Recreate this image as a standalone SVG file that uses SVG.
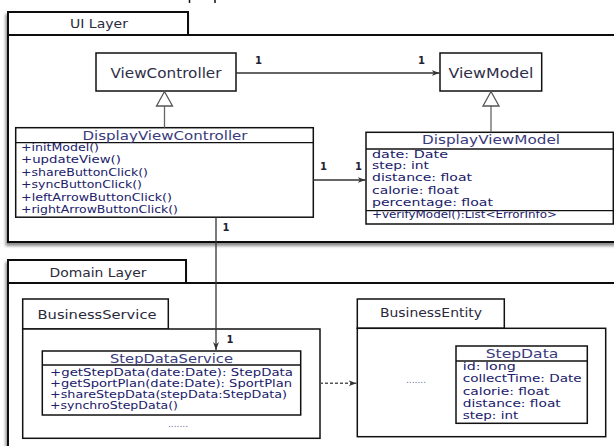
<svg xmlns="http://www.w3.org/2000/svg" width="614" height="446" viewBox="0 0 614 446">
  <defs>
    <filter id="shadow" x="-5%" y="-5%" width="110%" height="115%">
      <feDropShadow dx="-1.5" dy="3" stdDeviation="1.5" flood-color="#000" flood-opacity="0.45"/>
    </filter>
    <marker id="arrow" markerWidth="9" markerHeight="7" refX="8" refY="3.5" orient="auto" markerUnits="userSpaceOnUse">
      <path d="M0,0.5 L8,3.5 L0,6.5 L2.5,3.5 z" fill="#333"/>
    </marker>
  </defs>
  <style>
    .pkg { fill: #fff; stroke: #111; stroke-width: 2; }
    .sub { fill: #fff; stroke: #111; stroke-width: 1.5; }
    .box { fill: #fff; stroke: #111; stroke-width: 1.5; }
    .div { stroke: #111; stroke-width: 1.3; }
    text { font-family: "DejaVu Sans", "Liberation Sans", sans-serif; }
    .pname { font-size: 13px; fill: #2a2a3a; }
    .cname { font-size: 14px; fill: #2e2e48; }
    .title { font-size: 13px; fill: #3a3a7c; }
    .mem { font-size: 11px; fill: #20206a; }
    .mem.tight { font-size: 10px; }
    .mult { font-size: 10px; fill: #223; font-weight: bold; }
    .assoc { stroke: #333; stroke-width: 1.3; fill: none; }
    .gen { stroke: #666; stroke-width: 1.3; fill: none; }
    .tri { fill: #fff; stroke: #555; stroke-width: 1.3; }
    .dash { stroke: #555; stroke-width: 1.5; stroke-dasharray: 3 2; fill: none; }
    .dots { font-size: 9px; fill: #6a6a9a; }
  </style>

  <!-- stray ticks at the top edge -->
  <g id="ticks">
    <line x1="189.5" y1="0" x2="189.5" y2="3" stroke="#111" stroke-width="1.5"/>
    <line x1="215" y1="0" x2="215" y2="3" stroke="#111" stroke-width="1.5"/>
  </g>

  <!-- UI Layer package -->
  <g id="ui-layer" filter="url(#shadow)">
    <rect class="pkg" x="8" y="12" width="180" height="23"/>
    <rect class="pkg" x="8" y="35" width="620" height="207"/>
  </g>
  <text class="pname" x="99" y="28" text-anchor="middle" textLength="58" lengthAdjust="spacingAndGlyphs">UI Layer</text>

  <!-- Domain Layer package -->
  <g id="domain-layer" filter="url(#shadow)">
    <rect class="pkg" x="8" y="260" width="178" height="23"/>
    <rect class="pkg" x="8" y="283" width="620" height="200"/>
  </g>
  <text class="pname" x="98" y="277" text-anchor="middle" textLength="97" lengthAdjust="spacingAndGlyphs">Domain Layer</text>

  <!-- BusinessService package -->
  <g id="business-service">
    <rect class="sub" x="22.7" y="299" width="145.6" height="30"/>
    <rect class="sub" x="22.7" y="329" width="297.3" height="109.3"/>
    <text class="pname" x="97" y="318.5" text-anchor="middle" textLength="119" lengthAdjust="spacingAndGlyphs">BusinessService</text>
    <text class="dots" x="178" y="427" text-anchor="middle">.......</text>
  </g>

  <!-- BusinessEntity package -->
  <g id="business-entity">
    <rect class="sub" x="357.3" y="299" width="147" height="29.3"/>
    <rect class="sub" x="357.3" y="328.3" width="248.4" height="108.4"/>
    <text class="pname" x="431" y="316.5" text-anchor="middle" textLength="102" lengthAdjust="spacingAndGlyphs">BusinessEntity</text>
    <text class="dots" x="416" y="383" text-anchor="middle">.......</text>
  </g>

  <!-- ViewController -->
  <g id="view-controller">
    <rect class="box" x="96" y="53" width="140" height="38"/>
    <text class="cname" x="166" y="78" text-anchor="middle" textLength="111" lengthAdjust="spacingAndGlyphs">ViewController</text>
  </g>

  <!-- ViewModel -->
  <g id="view-model">
    <rect class="box" x="440" y="53" width="101.7" height="38"/>
    <text class="cname" x="491" y="78" text-anchor="middle" textLength="85" lengthAdjust="spacingAndGlyphs">ViewModel</text>
  </g>

  <!-- DisplayViewController -->
  <g id="display-view-controller">
    <rect class="box" x="15.7" y="127.7" width="297.6" height="89.5"/>
    <line class="div" x1="15.7" y1="142.7" x2="313.3" y2="142.7"/>
    <text class="title" x="165" y="140" text-anchor="middle" textLength="165" lengthAdjust="spacingAndGlyphs">DisplayViewController</text>
    <text class="mem" x="21" y="151" textLength="78" lengthAdjust="spacingAndGlyphs">+initModel()</text>
    <text class="mem" x="21" y="163.4" textLength="100" lengthAdjust="spacingAndGlyphs">+updateView()</text>
    <text class="mem" x="21" y="175.8" textLength="127" lengthAdjust="spacingAndGlyphs">+shareButtonClick()</text>
    <text class="mem" x="21" y="188.2" textLength="121" lengthAdjust="spacingAndGlyphs">+syncButtonClick()</text>
    <text class="mem" x="21" y="200.6" textLength="151" lengthAdjust="spacingAndGlyphs">+leftArrowButtonClick()</text>
    <text class="mem" x="21" y="213" textLength="157" lengthAdjust="spacingAndGlyphs">+rightArrowButtonClick()</text>
  </g>

  <!-- DisplayViewModel -->
  <g id="display-view-model">
    <rect class="box" x="366" y="132.3" width="247.3" height="91.7"/>
    <line class="div" x1="366" y1="149" x2="613.3" y2="149"/>
    <line class="div" x1="366" y1="210.7" x2="613.3" y2="210.7"/>
    <text class="title" x="491" y="144" text-anchor="middle" textLength="138" lengthAdjust="spacingAndGlyphs">DisplayViewModel</text>
    <text class="mem" x="372" y="157.5" textLength="76" lengthAdjust="spacingAndGlyphs">date:  Date</text>
    <text class="mem" x="372" y="169" textLength="57" lengthAdjust="spacingAndGlyphs">step:  int</text>
    <text class="mem" x="372" y="181" textLength="100" lengthAdjust="spacingAndGlyphs">distance:  float</text>
    <text class="mem" x="372" y="193.5" textLength="87" lengthAdjust="spacingAndGlyphs">calorie:  float</text>
    <text class="mem" x="372" y="205.5" textLength="121" lengthAdjust="spacingAndGlyphs">percentage:  float</text>
    <text class="mem" x="372" y="218" textLength="185" lengthAdjust="spacingAndGlyphs">+verifyModel():List&lt;ErrorInfo&gt;</text>
  </g>

  <!-- StepDataService -->
  <g id="step-data-service">
    <rect class="box" x="42.3" y="351" width="258.4" height="64"/>
    <line class="div" x1="42.3" y1="365" x2="300.7" y2="365"/>
    <text class="title" x="171.5" y="362.5" text-anchor="middle" textLength="123" lengthAdjust="spacingAndGlyphs">StepDataService</text>
    <text class="mem tight" x="50" y="375.5" textLength="243" lengthAdjust="spacingAndGlyphs">+getStepData(date:Date):  StepData</text>
    <text class="mem tight" x="50" y="386.8" textLength="242" lengthAdjust="spacingAndGlyphs">+getSportPlan(date:Date):  SportPlan</text>
    <text class="mem tight" x="50" y="398.1" textLength="237" lengthAdjust="spacingAndGlyphs">+shareStepData(stepData:StepData)</text>
    <text class="mem tight" x="50" y="409.4" textLength="128" lengthAdjust="spacingAndGlyphs">+synchroStepData()</text>
  </g>

  <!-- StepData -->
  <g id="step-data">
    <rect class="box" x="456" y="346" width="131.3" height="77.3"/>
    <line class="div" x1="456" y1="361" x2="587.3" y2="361"/>
    <text class="title" x="522" y="358" text-anchor="middle" textLength="72.6" lengthAdjust="spacingAndGlyphs">StepData</text>
    <text class="mem" x="462.7" y="369.5" textLength="53" lengthAdjust="spacingAndGlyphs">id:  long</text>
    <text class="mem" x="462.7" y="382" textLength="119" lengthAdjust="spacingAndGlyphs">collectTime:  Date</text>
    <text class="mem" x="462.7" y="394.5" textLength="86.7" lengthAdjust="spacingAndGlyphs">calorie:  float</text>
    <text class="mem" x="462.7" y="407" textLength="98" lengthAdjust="spacingAndGlyphs">distance:  float</text>
    <text class="mem" x="462.7" y="418.5" textLength="55.6" lengthAdjust="spacingAndGlyphs">step:  int</text>
  </g>

  <!-- connectors -->
  <g id="connectors">
    <!-- ViewController to ViewModel -->
    <line class="assoc" x1="236" y1="73" x2="439.5" y2="73" marker-end="url(#arrow)"/>
    <text class="mult" x="255" y="64">1</text>
    <text class="mult" x="418" y="64">1</text>

    <!-- generalizations -->
    <line class="gen" x1="164.5" y1="106" x2="164.5" y2="127.7"/>
    <path class="tri" d="M164.5,91.5 L156.5,106 L172.5,106 z"/>
    <line class="gen" x1="491" y1="106" x2="491" y2="132.3"/>
    <path class="tri" d="M491,91.5 L483,106 L499,106 z"/>

    <!-- DisplayViewController to DisplayViewModel -->
    <line class="assoc" x1="313.3" y1="180" x2="365.5" y2="180" marker-end="url(#arrow)"/>
    <text class="mult" x="320" y="170">1</text>
    <text class="mult" x="355" y="170">1</text>

    <!-- DisplayViewController to StepDataService -->
    <line class="assoc" x1="216" y1="217.2" x2="216" y2="350" marker-end="url(#arrow)"/>
    <text class="mult" x="222.5" y="231">1</text>
    <text class="mult" x="226.5" y="343">1</text>

    <!-- BusinessService to BusinessEntity dependency -->
    <line class="dash" x1="320" y1="383.3" x2="356.5" y2="383.3" marker-end="url(#arrow)"/>
  </g>
</svg>
